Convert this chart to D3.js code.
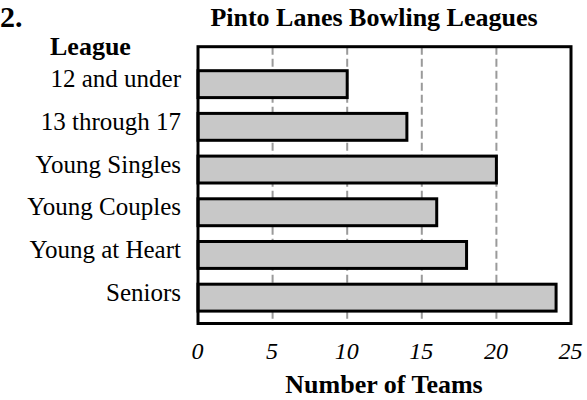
<!DOCTYPE html>
<html>
<head>
<meta charset="utf-8">
<script src="https://cdn.jsdelivr.net/npm/d3@7"></script>
<style>
  html, body { margin: 0; padding: 0; background: #fff; }
  svg { display: block; }
  text { font-family: "Liberation Serif", "Times New Roman", serif; fill: #000; }
</style>
</head>
<body>
<svg id="chart" width="587" height="400"></svg>
<script>
const categories = ["12 and under", "13 through 17", "Young Singles", "Young Couples", "Young at Heart", "Seniors"];
const teams = [10, 14, 20, 16, 18, 24];
const tickValues = [0, 5, 10, 15, 20, 25];
const gridValues = [5, 10, 15, 20];
const title = "Pinto Lanes Bowling Leagues";
const xTitle = "Number of Teams";
const yTitle = "League";
const problemNumber = "2.";

const svg = d3.select("#chart");
const frame = { left: 198, right: 571, top: 46.7, bottom: 323.5 };

const x = d3.scaleLinear().domain([0, 25]).range([frame.left, frame.right]);
const y = d3.scaleBand().domain(categories).range([62.8, 319]).paddingInner(0.37).paddingOuter(0.185);

// gridlines
svg.append("g").selectAll("line").data(gridValues).join("line")
  .attr("x1", d => x(d)).attr("x2", d => x(d))
  .attr("y1", frame.top).attr("y2", frame.bottom)
  .attr("stroke", "#9a9a9a").attr("stroke-width", 2)
  .attr("stroke-dasharray", "8,4");

// bars
svg.append("g").selectAll("rect").data(categories).join("rect")
  .attr("x", x(0))
  .attr("y", d => y(d))
  .attr("width", (d, i) => x(teams[i]) - x(0))
  .attr("height", y.bandwidth())
  .attr("fill", "#c8c8c8").attr("stroke", "#000").attr("stroke-width", 3);

// frame
svg.append("rect")
  .attr("x", frame.left).attr("y", frame.top)
  .attr("width", frame.right - frame.left).attr("height", frame.bottom - frame.top)
  .attr("fill", "none").attr("stroke", "#000").attr("stroke-width", 3);

// category labels
svg.append("g").selectAll("text").data(categories).join("text")
  .attr("x", 181).attr("y", d => y(d) + 16.7)
  .attr("text-anchor", "end").attr("font-size", 25)
  .text(d => d);

// x axis tick labels
const axis = d3.axisBottom(x).tickValues(tickValues).tickSize(0).tickPadding(0);
const gAxis = svg.append("g").attr("transform", `translate(0,${frame.bottom})`).call(axis);
gAxis.select(".domain").remove();
gAxis.selectAll("text")
  .attr("y", 35.5).attr("dy", null)
  .attr("x", -1)
  .style("font-family", '"Liberation Serif", "Times New Roman", serif')
  .style("font-style", "italic").style("font-size", "24px").attr("fill", "#000");

// titles
svg.append("text").attr("x", 374).attr("y", 26).attr("text-anchor", "middle")
  .attr("font-size", 26).attr("font-weight", "bold").text(title);
svg.append("text").attr("x", 384).attr("y", 393).attr("text-anchor", "middle")
  .attr("font-size", 26).attr("font-weight", "bold").text(xTitle);
svg.append("text").attr("x", 50).attr("y", 55)
  .attr("font-size", 26).attr("font-weight", "bold").text(yTitle);
svg.append("text").attr("x", 0).attr("y", 27)
  .attr("font-size", 30).attr("font-weight", "bold").text(problemNumber);
</script>
</body>
</html>
